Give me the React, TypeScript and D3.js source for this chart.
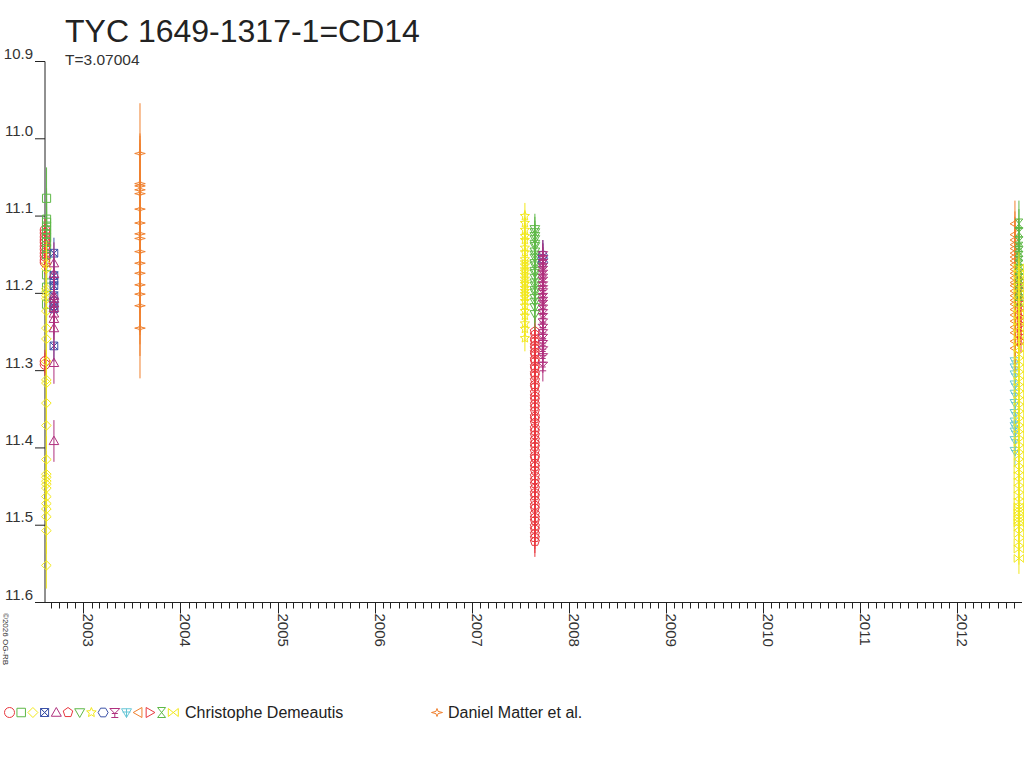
import React from "react";
import * as d3 from "d3";

const W = 1024;
const H = 768;
const plot = { left: 45, right: 1020, top: 61.5, bottom: 602.5 };

const title = "TYC 1649-1317-1=CD14";
const subtitle = "T=3.07004";
const copyright = "©2026 OG-RB";
const yTicks = [10.9, 11.0, 11.1, 11.2, 11.3, 11.4, 11.5, 11.6];
const observers = ["Christophe Demeautis", "Daniel Matter et al."];

// Christophe Demeautis, one run per symbol (decimal year, error, magnitudes)
const cdCircle = { date: 2002.604, err: 0.015, mags: [11.118, 11.122, 11.127, 11.131, 11.134, 11.139, 11.143, 11.148, 11.152, 11.157, 11.160, 11.288, 11.292] };
const cdSquare = { date: 2002.620, err: 0.04, mags: [11.077, 11.104, 11.108, 11.113, 11.118, 11.123, 11.128, 11.134, 11.142, 11.150, 11.176, 11.192, 11.214] };
const cdDiamond = { date: 2002.618, err: 0.03, mags: [11.162, 11.168, 11.194, 11.198, 11.203, 11.207, 11.223, 11.245, 11.259, 11.288, 11.312, 11.316, 11.342, 11.371, 11.415, 11.434, 11.438, 11.443, 11.447, 11.452, 11.463, 11.472, 11.479, 11.489, 11.507, 11.552] };
const cdCrossBox = { date: 2002.696, err: 0.02, mags: [11.148, 11.177, 11.184, 11.190, 11.203, 11.210, 11.216, 11.220, 11.268] };
const cdTriangle = { date: 2002.696, err: 0.027, mags: [11.161, 11.175, 11.203, 11.207, 11.213, 11.219, 11.226, 11.233, 11.245, 11.290, 11.391] };
const cdPentagon = { date: 2007.650, err: 0.02, mags: [11.249, 11.253, 11.259, 11.262, 11.267, 11.271, 11.276, 11.279, 11.285, 11.288, 11.294, 11.297, 11.303, 11.306, 11.312, 11.318, 11.321, 11.328, 11.333, 11.337, 11.343, 11.347, 11.352, 11.359, 11.362, 11.367, 11.374, 11.378, 11.383, 11.389, 11.394, 11.398, 11.404, 11.41, 11.413, 11.42, 11.424, 11.429, 11.436, 11.441, 11.446, 11.452, 11.458, 11.462, 11.468, 11.474, 11.478, 11.485, 11.49, 11.494, 11.501, 11.505, 11.511, 11.516, 11.521] };
const cdTriDown = { date: 2007.650, err: 0.02, mags: [11.117, 11.121, 11.126, 11.13, 11.136, 11.139, 11.146, 11.15, 11.154, 11.161, 11.164, 11.171, 11.174, 11.18, 11.186, 11.19, 11.196, 11.199, 11.206, 11.211, 11.218, 11.227] };
const cdStar = { date: 2007.547, err: 0.017, mags: [11.100, 11.109, 11.118, 11.126, 11.131, 11.141, 11.147, 11.156, 11.16, 11.164, 11.169, 11.172, 11.176, 11.181, 11.185, 11.188, 11.193, 11.197, 11.201, 11.205, 11.21, 11.216, 11.223, 11.229, 11.239, 11.246, 11.258] };
const cdHexagon = { date: 2007.732, err: 0.02, mags: [11.151, 11.155, 11.16] };
const cdTree = { date: 2007.732, err: 0.02, mags: [11.151, 11.156, 11.161, 11.166, 11.17, 11.175, 11.18, 11.184, 11.19, 11.195, 11.199, 11.205, 11.21, 11.214, 11.22, 11.226, 11.231, 11.238, 11.245, 11.252, 11.258, 11.266, 11.274, 11.283, 11.294] };
const cdWye = { date: 2012.593, err: 0.02, mags: [11.288, 11.296, 11.305, 11.318, 11.33, 11.342, 11.355, 11.366, 11.372, 11.379, 11.39, 11.404] };
const cdTriLeft = { date: 2012.593, err: 0.03, mags: [11.110, 11.124, 11.131, 11.137, 11.142, 11.148, 11.153, 11.158, 11.163, 11.169, 11.174, 11.18, 11.186, 11.19, 11.197, 11.203, 11.209, 11.214, 11.221, 11.228, 11.236, 11.244, 11.251, 11.262, 11.271] };
const cdTriRight = { date: 2012.655, err: 0.015, mags: [11.184, 11.195, 11.208, 11.219, 11.231, 11.24, 11.251, 11.262] };
const cdHourglass = { date: 2012.634, err: 0.03, mags: [11.110, 11.121, 11.133, 11.14, 11.146, 11.152, 11.158, 11.163, 11.169, 11.175, 11.181, 11.188, 11.196, 11.203, 11.21] };
const cdBowtie = { date: 2012.634, err: 0.02, mags: [11.167, 11.175, 11.184, 11.193, 11.201, 11.21, 11.219, 11.227, 11.236, 11.244, 11.253, 11.262, 11.27, 11.279, 11.288, 11.297, 11.306, 11.314, 11.322, 11.331, 11.339, 11.348, 11.357, 11.366, 11.375, 11.383, 11.392, 11.401, 11.41, 11.419, 11.428, 11.436, 11.444, 11.453, 11.462, 11.47, 11.476, 11.48, 11.484, 11.489, 11.493, 11.497, 11.502, 11.511, 11.522, 11.531, 11.543] };

// Daniel Matter et al.
const dmStar = { date: 2003.583, err: 0.065, mags: [11.019, 11.058, 11.061, 11.066, 11.071, 11.091, 11.109, 11.123, 11.129, 11.146, 11.161, 11.174, 11.189, 11.201, 11.216, 11.245] };

const RED = "#e8373e";
const GREEN = "#5eb847";
const YELLOW = "#f2e81c";
const BLUE = "#3c52a8";
const MAGENTA = "#b0307e";
const CYAN = "#66c6d6";
const ORANGE = "#f0802e";

const cdSeries = [
  { run: cdCircle, shape: "circle", color: RED },
  { run: cdSquare, shape: "square", color: GREEN },
  { run: cdDiamond, shape: "diamond", color: YELLOW },
  { run: cdCrossBox, shape: "crossbox", color: BLUE },
  { run: cdTriangle, shape: "triUp", color: MAGENTA },
  { run: cdPentagon, shape: "pentagon", color: RED },
  { run: cdTriDown, shape: "triDown", color: GREEN },
  { run: cdStar, shape: "star", color: YELLOW },
  { run: cdHexagon, shape: "hexagon", color: BLUE },
  { run: cdTree, shape: "tree", color: MAGENTA },
  { run: cdWye, shape: "wye", color: CYAN },
  { run: cdTriLeft, shape: "triLeft", color: ORANGE },
  { run: cdTriRight, shape: "triRight", color: RED },
  { run: cdHourglass, shape: "hourglass", color: GREEN },
  { run: cdBowtie, shape: "bowtie", color: YELLOW },
];
const dmSeries = { run: dmStar, shape: "star4", color: ORANGE };

function toDate(y: number) {
  const yr = Math.floor(y);
  const a = new Date(yr, 0, 1).getTime();
  const b = new Date(yr + 1, 0, 1).getTime();
  return new Date(a + (y - yr) * (b - a));
}

function poly(pts: number[][]) {
  return "M" + pts.map((p) => p[0].toFixed(2) + "," + p[1].toFixed(2)).join("L") + "Z";
}
function ngon(n: number, r: number, rot: number) {
  return d3.range(n).map((i) => {
    const a = rot + (i * 2 * Math.PI) / n;
    return [r * Math.sin(a), -r * Math.cos(a)];
  });
}

function shapePath(kind: string, r: number): string {
  switch (kind) {
    case "circle":
      return `M${r},0A${r},${r} 0 1,1 ${-r},0A${r},${r} 0 1,1 ${r},0Z`;
    case "square":
      return poly([[-r * 0.85, -r * 0.85], [r * 0.85, -r * 0.85], [r * 0.85, r * 0.85], [-r * 0.85, r * 0.85]]);
    case "diamond":
      return poly([[0, -r], [r, 0], [0, r], [-r, 0]]);
    case "crossbox": {
      const s = r * 0.8;
      return poly([[-s, -s], [s, -s], [0, 0]]) + poly([[-s, s], [s, s], [0, 0]]) + poly([[-s, -s], [-s, s], [0, 0]]) + poly([[s, -s], [s, s], [0, 0]]);
    }
    case "triUp":
      return poly([[0, -r], [r, r * 0.75], [-r, r * 0.75]]);
    case "triDown":
      return poly([[-r, -r * 0.75], [r, -r * 0.75], [0, r]]);
    case "triLeft":
      return poly([[-r, 0], [r * 0.75, -r], [r * 0.75, r]]);
    case "triRight":
      return poly([[r, 0], [-r * 0.75, -r], [-r * 0.75, r]]);
    case "pentagon":
      return poly(ngon(5, r, 0));
    case "hexagon":
      return poly(ngon(6, r, Math.PI / 6));
    case "star": {
      const pts: number[][] = [];
      for (let i = 0; i < 10; i++) {
        const a = (i * Math.PI) / 5;
        const rr = i % 2 === 0 ? r : r * 0.45;
        pts.push([rr * Math.sin(a), -rr * Math.cos(a)]);
      }
      return poly(pts);
    }
    case "tree":
      return poly([[-r, -r * 0.8], [r, -r * 0.8], [0, r * 0.2]]) + `M0,${r * 0.2}V${r}M${-r * 0.7},${r}H${r * 0.7}M${-r * 0.6},${r * 0.2}H${r * 0.6}`;
    case "wye":
      return poly([[-r, -r * 0.75], [r, -r * 0.75], [0, r]]) + `M0,${-r * 0.75}V${r}M${-r * 0.8},${-r * 0.1}H${r * 0.8}`;
    case "hourglass":
      return poly([[-r * 0.8, -r], [r * 0.8, -r], [-r * 0.8, r], [r * 0.8, r]]);
    case "bowtie":
      return poly([[-r, -r * 0.8], [-r, r * 0.8], [r, -r * 0.8], [r, r * 0.8]]);
    case "star4": {
      const k = r * 0.22;
      return poly([[0, -r * 0.8], [k, -k], [r * 1.1, 0], [k, k], [0, r * 0.8], [-k, k], [-r * 1.1, 0], [-k, -k]]);
    }
    default:
      return "";
  }
}

const FONT = "'Liberation Sans', Arial, sans-serif";

export default function App() {
  const x = d3
    .scaleTime()
    .domain([toDate(2002.604), toDate(2012.645)])
    .range([plot.left, plot.right]);
  const y = d3.scaleLinear().domain([10.9, 11.6]).range([plot.top, plot.bottom]);

  const months = x.ticks(d3.timeMonth.every(1) as any);

  const drawRun = (s: { run: { date: number; err: number; mags: number[] }; shape: string; color: string }, key: string) => {
    const cx = x(toDate(s.run.date));
    return (
      <g key={key} stroke={s.color} fill="none" strokeWidth={1}>
        {s.run.mags.map((m, i) => (
          <line key={"e" + i} x1={cx} x2={cx} y1={y(m - s.run.err)} y2={y(m + s.run.err)} />
        ))}
        {s.run.mags.map((m, i) => (
          <path key={"p" + i} d={shapePath(s.shape, 4.8)} transform={`translate(${cx},${y(m)})`} />
        ))}
      </g>
    );
  };

  return (
    <svg width={W} height={H} style={{ position: "absolute", left: 0, top: 0, background: "#fff" }} fontFamily={FONT}>
      <text x={65} y={42} fontSize={32} fill="#222">{title}</text>
      <text x={65} y={65} fontSize={15.5} fill="#333">{subtitle}</text>

      {/* y axis */}
      <line x1={plot.left} x2={plot.left} y1={plot.top} y2={plot.bottom} stroke="#222" />
      {yTicks.map((t) => (
        <g key={t}>
          <line x1={plot.left - 10} x2={plot.left} y1={y(t)} y2={y(t)} stroke="#222" />
          <text x={33} y={y(t) - 3} fontSize={15} textAnchor="end" fill="#333">{d3.format(".1f")(t)}</text>
        </g>
      ))}

      {/* x axis */}
      <line x1={plot.left} x2={1022} y1={plot.bottom} y2={plot.bottom} stroke="#222" />
      {months.map((d, i) => {
        const major = d.getMonth() === 0;
        const px = Math.round(x(d)) + 0.5;
        return (
          <g key={i}>
            <line x1={px} x2={px} y1={plot.bottom} y2={plot.bottom + (major ? 11 : 6)} stroke="#222" />
            {major && (
              <text transform={`translate(${px - 1},${plot.bottom + 11}) rotate(90)`} fontSize={15} fill="#333">
                {d.getFullYear()}
              </text>
            )}
          </g>
        );
      })}

      <text transform={`translate(2.5,613) rotate(90)`} fontSize={8} fill="#333">{copyright}</text>

      {cdSeries.map((s, i) => drawRun(s, "cd" + i))}
      {drawRun(dmSeries, "dm")}

      {/* legend */}
      {cdSeries.map((s, i) => (
        <path key={"lg" + i} d={shapePath(s.shape, 5)} transform={`translate(${9.5 + i * 11.7},712.5)`} stroke={s.color} fill="none" />
      ))}
      <text x={185} y={718} fontSize={16} fill="#222">{observers[0]}</text>
      <path d={shapePath(dmSeries.shape, 5)} transform="translate(437,712.5)" stroke={dmSeries.color} fill="none" />
      <text x={448} y={718} fontSize={16} fill="#222">{observers[1]}</text>
    </svg>
  );
}
